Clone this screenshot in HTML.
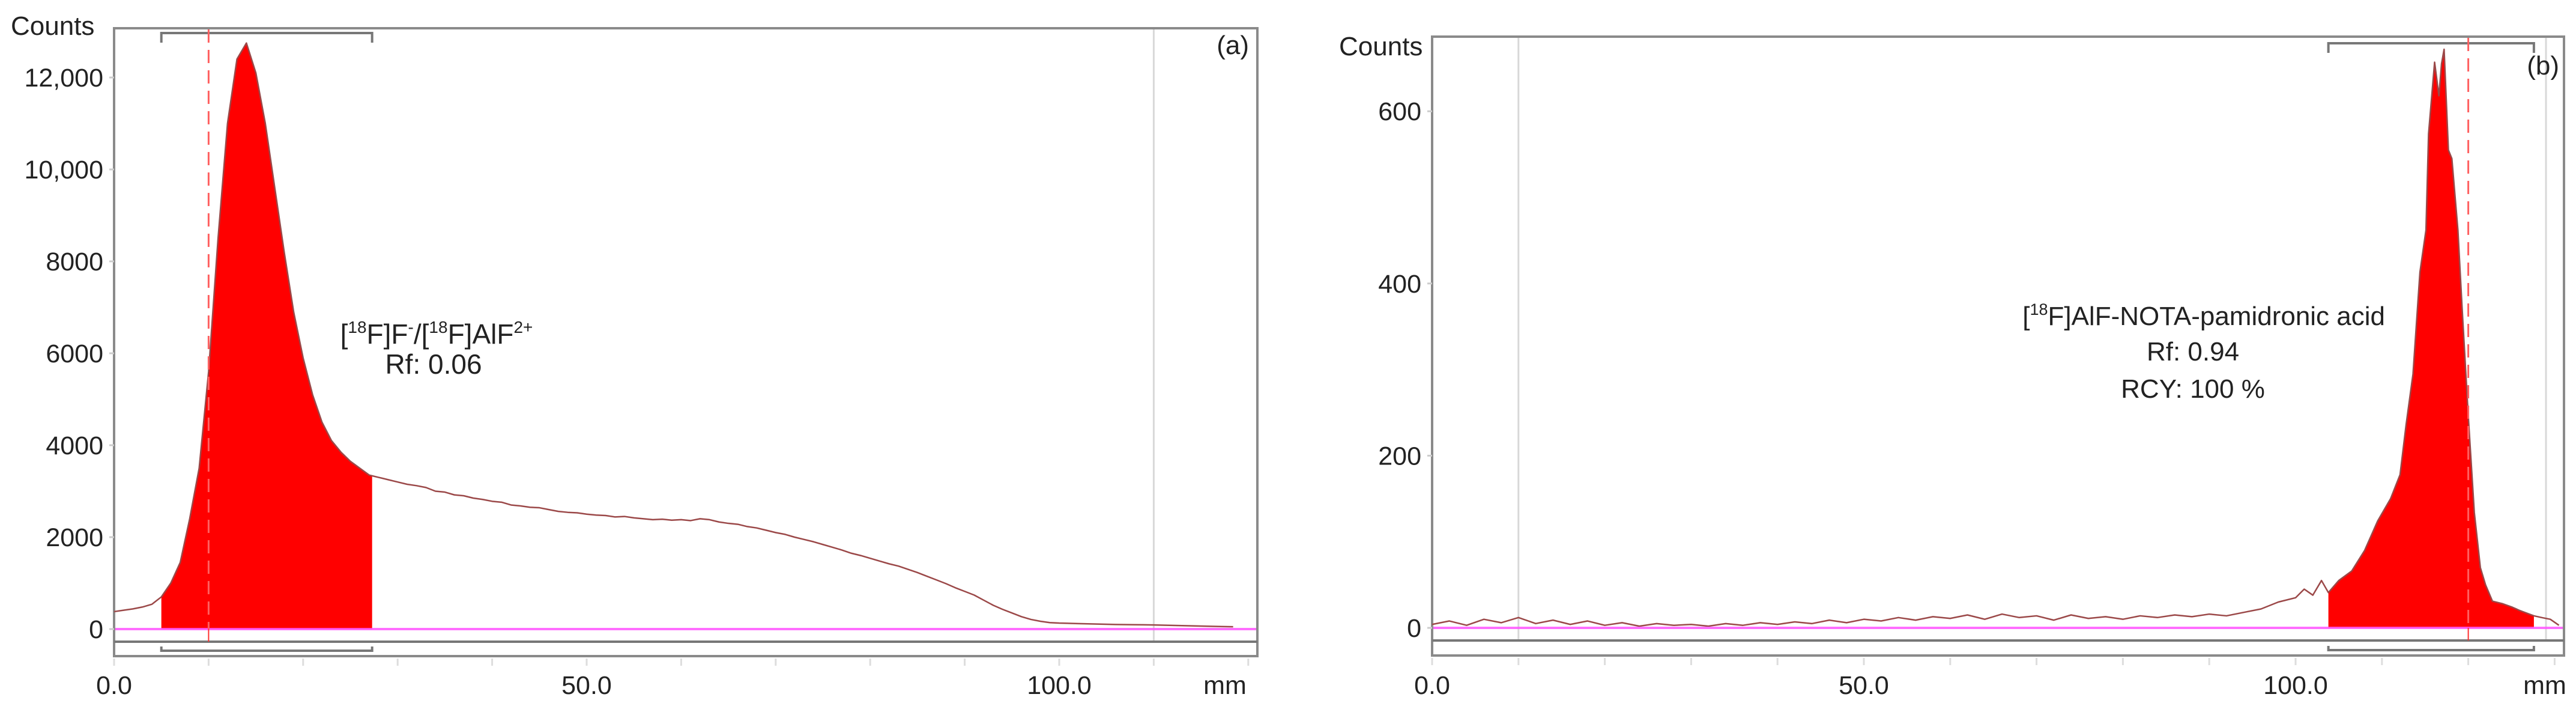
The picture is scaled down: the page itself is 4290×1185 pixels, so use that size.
<!DOCTYPE html>
<html><head><meta charset="utf-8"><style>
html,body{margin:0;padding:0;background:#fff;}
svg{display:block;font-family:"Liberation Sans",sans-serif;}
</style></head><body>
<svg id="chart" width="4290" height="1185" viewBox="0 0 4290 1185" xmlns="http://www.w3.org/2000/svg"></svg>
<script>
// ---- Panel (a) data ----
const mmA = [0,1,2,3,4,5,6,7,8,9,10,11,12,13,14,15,16,17,18,19,20,21,22,23,24,25,26,27,28,29,30,31,32,33,34,35,36,37,38,39,40,41,42,43,44,45,46,47,48,49,50,51,52,53,54,55,56,57,58,59,60,61,62,63,64,65,66,67,68,69,70,71,72,73,74,75,76,77,78,79,80,81,82,83,84,85,86,87,88,89,90,91,92,93,94,95,96,97,98,99,100,102,104,106,108,110,112,114,116,118.4];
const countsA = [380,410,440,480,540,700,1000,1450,2400,3500,5600,8500,11000,12400,12750,12100,11000,9600,8200,6900,5900,5100,4500,4100,3850,3650,3500,3350,3300,3250,3200,3150,3120,3080,3000,2980,2920,2900,2850,2820,2780,2760,2700,2680,2650,2640,2600,2560,2540,2530,2500,2480,2470,2440,2450,2420,2400,2380,2390,2370,2380,2360,2400,2380,2330,2300,2280,2230,2200,2150,2100,2060,2000,1950,1900,1840,1780,1720,1650,1600,1540,1480,1420,1370,1300,1230,1150,1070,990,900,820,740,630,520,430,350,270,210,170,140,130,120,110,100,95,90,80,70,60,50];
const yTicksA = [0,2000,4000,6000,8000,10000,12000];
const yTickLabelsA = ["0","2000","4000","6000","8000","10,000","12,000"];
const peakA = [5.0, 27.3];   // integrated region (mm)
const rfLineA = 10;          // dashed marker (mm)
const guideA = 110;          // gray guide (mm)

// ---- Panel (b) data ----
const mmB = [0,2,4,6,8,10,12,14,16,18,20,22,24,26,28,30,32,34,36,38,40,42,44,46,48,50,52,54,56,58,60,62,64,66,68,70,72,74,76,78,80,82,84,86,88,90,92,94,96,98,100,101,102,103,103.8,105,106.5,108,109.5,111,112.1,112.8,113.6,114.4,115.1,115.4,116.1,116.6,116.9,117.2,117.7,118.1,118.8,119.3,120,120.7,121.4,122,122.8,124,125.1,126,127.6,128.5,129.5,130.5];
const countsB = [4,8,3,10,6,12,5,9,4,8,3,6,2,5,3,4,2,5,3,6,4,7,5,9,6,10,8,12,9,13,11,15,10,16,12,14,9,15,11,13,10,14,12,15,13,16,14,18,22,30,35,45,38,55,41,55,66,90,124,150,178,236,295,413,462,574,657,618,655,672,555,545,462,369,246,134,70,50,31,28,24,20,14,12,10,3];
const yTicksB = [0,200,400,600];
const yTickLabelsB = ["0","200","400","600"];
const peakB = [103.8, 127.6];
const rfLineB = 120;
const guideB = [10, 129];

const xTickMajor = [0,50,100];
const xTickLabels = ["0.0","50.0","100.0"];

const svg = document.getElementById('chart');
const NS = 'http://www.w3.org/2000/svg';
function mk(tag, attrs, parent){
  const e = document.createElementNS(NS, tag);
  for (const k in attrs) e.setAttribute(k, attrs[k]);
  (parent||svg).appendChild(e);
  return e;
}
function interp(xs, ys, x){
  for (let i=1;i<xs.length;i++){
    if (x<=xs[i]){ const t=(x-xs[i-1])/(xs[i]-xs[i-1]); return ys[i-1]+t*(ys[i]-ys[i-1]); }
  }
  return ys[ys.length-1];
}

function panel(cfg){
  const g = mk('g', {});
  
  
  const X = v => cfg.x0 + v*cfg.pxmm;
  const Y = v => cfg.zeroY - v*cfg.pxc;
  const L=cfg.left, T=cfg.top, R=cfg.right, B=cfg.bottom;
  // frame
  const fr = mk('rect', {x:L,y:T,width:R-L,height:B-T,fill:'#fff',stroke:'#8a8a8a','stroke-width':4}, g);
  
  
  // gray guides
  cfg.guides.forEach(m=>{
    const l = mk('line',{x1:X(m),x2:X(m),y1:T+2,y2:cfg.bandY,stroke:'#d8d8d8','stroke-width':3},g);
    
    
  });
  // band line
  const bl = mk('line',{x1:L,x2:R,y1:cfg.bandY,y2:cfg.bandY,stroke:'#777','stroke-width':4},g);
  
  
  // brackets
  const b1 = mk('path',{d:`M${X(cfg.peak[0])},${cfg.topBrY+16} V${cfg.topBrY} H${X(cfg.peak[1])} V${cfg.topBrY+16}`,fill:'none',stroke:'#777','stroke-width':4},g);
  
  
  const b2 = mk('path',{d:`M${X(cfg.peak[0])},${B-16} V${B-9} H${X(cfg.peak[1])} V${B-16}`,fill:'none',stroke:'#777','stroke-width':4},g);
  
  
  // fill
  let pts = [[X(cfg.peak[0]),Y(0)],[X(cfg.peak[0]),Y(interp(cfg.xs,cfg.ys,cfg.peak[0]))]];
  cfg.xs.forEach((m,i)=>{ if(m>cfg.peak[0]&&m<cfg.peak[1]) pts.push([X(m),Y(cfg.ys[i])]); });
  pts.push([X(cfg.peak[1]),Y(interp(cfg.xs,cfg.ys,cfg.peak[1]))],[X(cfg.peak[1]),Y(0)]);
  const pf = mk('polygon',{points:pts.map(p=>p.join(',')).join(' '),fill:'#ff0000'},g);
  
  
  // trace
  const tr = mk('polyline',{points:cfg.xs.map((m,i)=>X(m)+','+Y(cfg.ys[i])).join(' '),fill:'none',stroke:'#9b4848','stroke-width':2.5,'stroke-linejoin':'round'},g);
  
  
  // zero line
  const zl = mk('line',{x1:L+2,x2:R-2,y1:Y(0),y2:Y(0),stroke:'#ff55ff','stroke-width':4,'stroke-opacity':0.85},g);
  
  
  // rf marker
  const dm = mk('line',{x1:X(cfg.rf),x2:X(cfg.rf),y1:T+2,y2:Y(0),stroke:'#ff6060','stroke-width':3,'stroke-dasharray':'22,12'},g);
  
  
  mk('line',{x1:X(cfg.rf),x2:X(cfg.rf),y1:Y(0),y2:cfg.bandY,stroke:'#ff3030','stroke-width':2},g);
  // y ticks
  cfg.yt.forEach((v,i)=>{
    mk('line',{x1:L-8,x2:L,y1:Y(v),y2:Y(v),stroke:'#ccc','stroke-width':3},g);
    const t = mk('text',{x:L-18,y:Y(v)+15,'text-anchor':'end','font-size':43,fill:'#222'},g);
    t.textContent = cfg.ytl[i];
    
    
  });
  // x ticks
  for(let m=0; X(m)<=R+1; m+=10){
    mk('line',{x1:X(m),x2:X(m),y1:B+4,y2:B+16,stroke:'#ddd','stroke-width':3},g);
  }
  xTickMajor.forEach((m,i)=>{
    const t = mk('text',{x:X(m),y:1155,'text-anchor':'middle','font-size':43,fill:'#222'},g);
    t.textContent = xTickLabels[i];
    
    
  });
  const mm = mk('text',{x:cfg.mmX,y:1155,'text-anchor':'middle','font-size':43,fill:'#222'},g);
  mm.textContent='mm';
  
  
  const ct = mk('text',{x:cfg.countsX,y:cfg.countsY,'font-size':44,fill:'#222'},g);
  ct.textContent='Counts';
  
  
  const pl = mk('text',{x:cfg.labX,y:cfg.labY,'text-anchor':'end','font-size':44,fill:'#222'},g);
  pl.textContent=cfg.lab;
  
  
  return g;
}

panel({name:'panel-a',x0:190,pxmm:15.74,zeroY:1047,pxc:(1047-129)/12000,left:190,top:47,right:2094,bottom:1092,bandY:1068,topBrY:55,
  xs:mmA,ys:countsA,peak:peakA,rf:rfLineA,guides:[guideA],yt:yTicksA,ytl:yTickLabelsA,mmX:2040,countsX:18,countsY:58,labX:2080,labY:90,lab:'(a)'});
panel({name:'panel-b',x0:2385,pxmm:14.38,zeroY:1045,pxc:1.433,left:2385,top:61,right:4270,bottom:1091,bandY:1066,topBrY:72,
  xs:mmB,ys:countsB,peak:peakB,rf:rfLineB,guides:guideB,yt:yTicksB,ytl:yTickLabelsB,mmX:4238,countsX:2230,countsY:92,labX:4262,labY:124,lab:'(b)'});
</script>
<svg style="position:absolute;left:0;top:0" width="4290" height="1185">
  <text x="727" y="572" text-anchor="middle" font-family="Liberation Sans, sans-serif" font-size="46" fill="#222">[<tspan font-size="28" dy="-18">18</tspan><tspan dy="18">F]F</tspan><tspan font-size="28" dy="-18">-</tspan><tspan dy="18">/[</tspan><tspan font-size="28" dy="-18">18</tspan><tspan dy="18">F]AlF</tspan><tspan font-size="28" dy="-18">2+</tspan></text>
  <text x="722" y="622" text-anchor="middle" font-family="Liberation Sans, sans-serif" font-size="46" fill="#222">Rf: 0.06</text>
  <text x="3972" y="541" text-anchor="end" font-family="Liberation Sans, sans-serif" font-size="44" fill="#222">[<tspan font-size="27" dy="-17">18</tspan><tspan dy="17">F]AlF-NOTA-pamidronic acid</tspan></text>
  <text x="3652" y="600" text-anchor="middle" font-family="Liberation Sans, sans-serif" font-size="44" fill="#222">Rf: 0.94</text>
  <text x="3652" y="662" text-anchor="middle" font-family="Liberation Sans, sans-serif" font-size="44" fill="#222">RCY: 100 %</text>
</svg>
</body></html>
